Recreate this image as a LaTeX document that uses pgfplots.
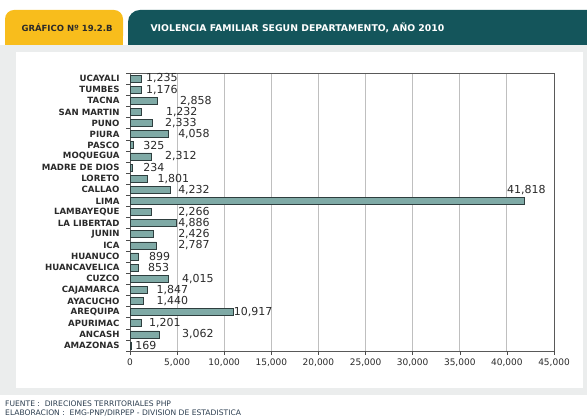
\documentclass[border=0pt]{standalone}
\usepackage{fontspec}
\setmainfont{DejaVu Sans}
\usepackage{pgfplots}
\usepackage{pgfplotstable}
\pgfplotsset{compat=1.18}
\definecolor{tabyellow}{HTML}{F8BD1C}
\definecolor{tabteal}{HTML}{14555B}
\definecolor{panelgray}{HTML}{EBEDED}
\definecolor{barfill}{HTML}{7FAAA6}
\definecolor{bardraw}{HTML}{2E3E3E}
\definecolor{txt}{HTML}{2A2A2A}
\definecolor{foot}{HTML}{2C3E50}

\pgfplotstableread{
y v
0 169
1 3062
2 1201
3 10917
4 1440
5 1847
6 4015
7 853
8 899
9 2787
10 2426
11 4886
12 2266
13 41818
14 4232
15 1801
16 234
17 2312
18 325
19 4058
20 2333
21 1232
22 2858
23 1176
24 1235
}\bars

\pgfplotstableread{
x y lab
550 0 169
5500 1 3,062
2000 2 1,201
11000 3 10,917
2800 4 1,440
2800 5 1,847
5500 6 4,015
1900 7 853
2000 8 899
5100 9 2,787
5100 10 2,426
5100 11 4,886
5100 12 2,266
40000 13.95 41,818
5100 14 4,232
2900 15 1,801
1400 16 234
3700 17 2,312
1400 18 325
5100 19 4,058
3700 20 2,333
3800 21 1,232
5300 22 2,858
1700 23 1,176
1700 24 1,235
}\labels

\begin{document}
\begin{tikzpicture}[x=1pt,y=1pt]
\path[use as bounding box] (0,0) rectangle (587,417);
% panel
\fill[panelgray] (0,22) rectangle (587,372);
\fill[white] (16,29) rectangle (583,365);
% tabs
\fill[tabyellow, rounded corners=9pt] (5,372) -- (5,407) -- (123,407) -- (123,372) [sharp corners] -- cycle;
\fill[tabteal, rounded corners=12pt] (128,372) -- (128,407) -- (600,407) -- (600,372) [sharp corners] -- cycle;
\fill[tabyellow] (5,372) rectangle (123,380);
\fill[tabteal] (128,372) rectangle (587,380);
\node[anchor=west, text=txt, font=\fontsize{8.5}{10}\selectfont\bfseries] at (18,389) {GRÁFICO Nº 19.2.B};
\node[anchor=west, text=white, font=\fontsize{9.3}{10}\selectfont\bfseries] at (147,389) {VIOLENCIA FAMILIAR SEGUN DEPARTAMENTO, AÑO 2010};
% footnotes
\node[anchor=base west, text=foot, font=\fontsize{7.6}{8}\selectfont, inner sep=0pt] at (5,10) {FUENTE :\ \ DIRECIONES TERRITORIALES PHP};
\node[anchor=base west, text=foot, font=\fontsize{7.6}{8}\selectfont, inner sep=0pt] at (5,1.5) {ELABORACION :\ \ EMG-PNP/DIRPEP - DIVISION DE ESTADISTICA};

\begin{axis}[
  at={(130pt,66pt)}, anchor=south west,
  scale only axis, width=424pt, height=278pt,
  xmin=0, xmax=45000, ymin=-0.5, ymax=24.5,
  xtick={0,5000,...,45000},
  scaled x ticks=false,
  /pgf/number format/.cd, 1000 sep={,}, assume math mode=true, /pgfplots/.cd,
  xticklabel style={font=\fontsize{9}{10}\selectfont, text=txt, yshift=-4pt},
  ytick={0,...,24},
  yticklabels={AMAZONAS,ANCASH,APURIMAC,AREQUIPA,AYACUCHO,CAJAMARCA,CUZCO,HUANCAVELICA,HUANUCO,ICA,JUNIN,LA LIBERTAD,LAMBAYEQUE,LIMA,CALLAO,LORETO,MADRE DE DIOS,MOQUEGUA,PASCO,PIURA,PUNO,SAN MARTIN,TACNA,TUMBES,UCAYALI},
  yticklabel style={font=\fontsize{8.6}{10}\selectfont\bfseries, text=txt, xshift=-7pt},
  minor ytick={-0.5,0.5,...,24.5},
  major tick length=0pt,
  minor tick length=4pt,
  tick align=outside,
  every minor tick/.style={draw=black!70, thin},
  xtick pos=bottom, ytick pos=left,
  extra x ticks={0,5000,...,45000},
  extra x tick labels={},
  extra x tick style={major tick length=4pt, tick align=outside, xmajorgrids=false, tick style={draw=black!70, thin}},
  xmajorgrids,
  grid style={draw=black!25, line width=0.8pt},
  axis line style={draw=black!65, line width=0.8pt},
  clip=false,
]
\addplot[xbar, bar width=7pt, fill=barfill, draw=bardraw, line width=0.6pt] table[x=v, y=y] {\bars};
\addplot[draw=none, mark=none, nodes near coords, point meta=explicit symbolic,
  nodes near coords style={anchor=west, inner sep=0pt, font=\fontsize{11}{12}\selectfont, text=txt}]
  table[x=x, y=y, meta=lab] {\labels};
\end{axis}
\end{tikzpicture}
\end{document}
